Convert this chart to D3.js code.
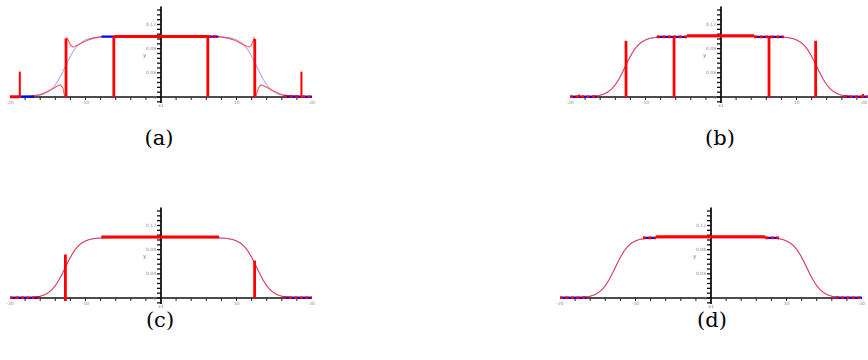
<!DOCTYPE html>
<html><head><meta charset="utf-8">
<script src="https://cdn.jsdelivr.net/npm/d3@7"></script>
<style>body{margin:0;background:#fff}svg{display:block}</style>
</head><body><svg id="c" width="868" height="360"></svg>
<script>
// ---------- data ----------
const xTickLabels = [-20, -10, 10, 20];
const yTickLabels = [0, 0.04, 0.08, 0.12];
const captions = ["(a)", "(b)", "(c)", "(d)"];

// exact profile (blue)
const exactX = [-20,-19,-18,-17,-16.5,-16,-15.5,-15,-14.5,-14,-13.5,-13,-12.5,-12,-11.5,-11,-10.5,-10,-9.5,-9,-8.5,-8,-7,-6,-4,0,
                4,6,7,8,8.5,9,9.5,10,10.5,11,11.5,12,12.5,13,13.5,14,14.5,15,15.5,16,16.5,17,18,19,20];
const exactY = [0.0000,0.0001,0.0004,0.0011,0.0018,0.0030,0.0050,0.0082,0.0131,0.0203,0.0301,0.0422,0.0552,0.0676,0.0780,0.0857,0.0910,0.0945,0.0967,0.0980,0.0988,0.0993,0.0998,0.0999,0.1000,0.1000,
                0.1000,0.0999,0.0998,0.0993,0.0988,0.0980,0.0967,0.0945,0.0910,0.0857,0.0780,0.0676,0.0552,0.0422,0.0301,0.0203,0.0131,0.0082,0.0050,0.0030,0.0018,0.0011,0.0004,0.0001,0.0000];

// numerical solution of panel (a): [x, y]
const redA = [[-20,0],[-18.9,0.0003],[-18,0.0008],[-17,0.0018],[-16,0.004],[-15.5,0.0065],[-15,0.0095],[-14.5,0.0125],
  [-14,0.016],[-13.6,0.019],[-13.3,0.020],[-13.0,0.015],[-12.8,0.004],[-12.65,0.0],[-12.55,0.095],[-12.45,0.098],
  [-12.25,0.093],[-12.0,0.086],[-11.7,0.083],[-11.4,0.0835],[-11.0,0.086],[-10.3,0.0905],[-9.5,0.095],[-9.0,0.097],
  [-8.0,0.0995],[-7.0,0.1],[0,0.1],[7.0,0.1],[8.0,0.0995],[9.0,0.097],[9.5,0.095],[10.3,0.0905],[11.0,0.086],
  [11.4,0.0835],[11.7,0.083],[12.0,0.086],[12.2,0.093],[12.32,0.098],[12.4,0.095],[12.5,0.0],[12.65,0.004],
  [12.9,0.015],[13.2,0.020],[13.5,0.019],[14,0.016],[14.5,0.0125],[15,0.0095],[15.5,0.0065],[16,0.004],
  [17,0.0018],[18,0.0008],[18.9,0.0003],[20,0]];

// vertical spikes: [x, bottom, top]
const spikesA = [[-18.7,0,0.042],[-12.58,0,0.097],[-6.25,0,0.1],[6.2,0,0.1],[12.42,0,0.096],[18.6,0,0.042]];
const spikesB = [[-18.8,0,0.004],[-12.58,0,0.093],[-6.22,0,0.1],[6.36,0,0.1],[12.54,0,0.093],[18.8,0,0.005]];
const spikesC = [[-12.66,-0.005,0.072],[12.4,0,0.062]];
const spikesD = [];

// dense point runs: [x0, x1, y]
const redBandsA = [[-20,-18.8,0.0004],[-6.25,6.2,0.1]];
const mixBandsA = [[6.2,7.6,0.1],[16.3,18.5,0.0008],[18.7,20,0.0005]];
const blueBandsA = [[-18.6,-16.8,0.0008],[-7.9,-6.25,0.1]];

const redBandsB = [[-4.5,4.4,0.1012]];
const mixBandsB = [[-8.5,-4.5,0.0995],[4.4,8.3,0.0995],[-20,-16.5,0.0005],[16.3,19.6,0.0005]];
const blueBandsB = [];

const redBandsC = [[-7.9,7.7,0.1008]];
const mixBandsC = [[-20,-16,0.0005],[16.2,20,0.0005]];
const blueBandsC = [];

const redBandsD = [[-7.3,7.2,0.1012]];
const mixBandsD = [[-9,-7.3,0.0995],[7.2,9,0.0995],[-20,-16.5,0.0005],[16.5,20,0.0005]];
const blueBandsD = [];

const exactPts = exactX.map((x, i) => [x, exactY[i]]);

const panels = [
  {x0: 10,  base: 97,  red: redA,     spikes: spikesA, redB: redBandsA, mixB: mixBandsA, blueB: blueBandsA, cap: captions[0], cx: 159, cy: 145},
  {x0: 570, base: 97,  red: exactPts, spikes: spikesB, redB: redBandsB, mixB: mixBandsB, blueB: blueBandsB, cap: captions[1], cx: 720, cy: 145},
  {x0: 10,  base: 298, red: exactPts, spikes: spikesC, redB: redBandsC, mixB: mixBandsC, blueB: blueBandsC, cap: captions[2], cx: 160, cy: 327},
  {x0: 560, base: 298, red: exactPts, spikes: spikesD, redB: redBandsD, mixB: mixBandsD, blueB: blueBandsD, cap: captions[3], cx: 712, cy: 327}
];

// ---------- drawing ----------
const svg = d3.select("#c");

panels.forEach(p => {
  const x = d3.scaleLinear().domain([-20, 20]).range([p.x0, p.x0 + 302]);
  const y = d3.scaleLinear().domain([0, 0.12]).range([p.base, p.base - 72.5]);
  const g = svg.append("g");

  // x axis
  g.append("line").attr("x1", x(-20)).attr("x2", x(20)).attr("y1", y(0)).attr("y2", y(0))
    .attr("stroke", "#111").attr("stroke-width", 1.6);
  const xt = d3.range(-18, 19, 2).filter(v => v !== 0);
  g.selectAll(".xt").data(xt).join("line")
    .attr("x1", d => x(d)).attr("x2", d => x(d)).attr("y1", y(0)).attr("y2", y(0) + 3)
    .attr("stroke", "#222").attr("stroke-width", 1);
  g.selectAll(".xl").data(xTickLabels).join("text")
    .attr("x", d => Math.min(x(d), 864)).attr("y", y(0) + 6.5)
    .attr("text-anchor", "middle").attr("font-family", "DejaVu Sans").attr("font-size", 4.5)
    .attr("fill", "#888").text(d => d);

  // y axis
  g.append("line").attr("x1", x(0)).attr("x2", x(0)).attr("y1", y(-0.01)).attr("y2", y(0.15))
    .attr("stroke", "#111").attr("stroke-width", 1.8);
  const yt = d3.range(-0.008, 0.151, 0.008);
  g.selectAll(".yt").data(yt).join("line")
    .attr("x1", x(0) - 4).attr("x2", x(0)).attr("y1", d => y(d)).attr("y2", d => y(d))
    .attr("stroke", "#111").attr("stroke-width", 1.3);
  g.selectAll(".yl").data(yTickLabels).join("text")
    .attr("x", x(0) - 5).attr("y", d => y(d) + 1.6)
    .attr("text-anchor", "end").attr("font-family", "DejaVu Sans").attr("font-size", 4.5)
    .attr("fill", "#888").text(d => d === 0 ? "0" : d.toFixed(2));
  g.append("text").attr("x", x(0) - 18).attr("y", y(0.067))
    .attr("font-family", "DejaVu Sans").attr("font-size", 5.5).attr("fill", "#777").text("y");
  g.append("text").attr("x", x(0)).attr("y", y(0) + 9.5).attr("text-anchor", "middle")
    .attr("font-family", "DejaVu Sans").attr("font-size", 4.5).attr("fill", "#777").text("x1");

  // exact curve (blue, thin)
  const line = d3.line().x(d => x(d[0])).y(d => y(d[1]));
  g.append("path").datum(exactPts).attr("d", line.curve(d3.curveMonotoneX))
    .attr("fill", "none").attr("stroke", "#5a5aff").attr("stroke-width", 0.9).attr("opacity", 0.7);

  // numerical curve (red, thin)
  g.append("path").datum(p.red).attr("d", d3.line().x(d => x(d[0])).y(d => y(d[1])).curve(d3.curveLinear))
    .attr("fill", "none").attr("stroke", "#ff1a1a").attr("stroke-width", 1.1).attr("opacity", 0.72);

  // dense runs
  g.selectAll(".bb").data(p.blueB).join("line")
    .attr("x1", d => x(d[0])).attr("x2", d => x(d[1])).attr("y1", d => y(d[2])).attr("y2", d => y(d[2]))
    .attr("stroke", "#0000ff").attr("stroke-width", 2.2);
  g.selectAll(".mb").data(p.mixB).join("line")
    .attr("x1", d => x(d[0])).attr("x2", d => x(d[1])).attr("y1", d => y(d[2])).attr("y2", d => y(d[2]))
    .attr("stroke", "#0000ff").attr("stroke-width", 2.2);
  g.selectAll(".mr").data(p.mixB).join("line")
    .attr("x1", d => x(d[0])).attr("x2", d => x(d[1])).attr("y1", d => y(d[2])).attr("y2", d => y(d[2]))
    .attr("stroke", "#ff0000").attr("stroke-width", 2.6).attr("stroke-dasharray", "3,2.5");
  g.selectAll(".rb").data(p.redB).join("line")
    .attr("x1", d => x(d[0])).attr("x2", d => x(d[1])).attr("y1", d => y(d[2])).attr("y2", d => y(d[2]))
    .attr("stroke", "#ff0000").attr("stroke-width", 3);

  // spikes
  g.selectAll(".sp").data(p.spikes).join("line")
    .attr("x1", d => x(d[0])).attr("x2", d => x(d[0])).attr("y1", d => y(d[1])).attr("y2", d => y(d[2]))
    .attr("stroke", "#ff0000").attr("stroke-width", d => (d[2] < 0.05 ? 2 : 2.8));

  // caption
  svg.append("text").attr("x", p.cx).attr("y", p.cy).attr("text-anchor", "middle")
    .attr("font-family", "'DejaVu Serif', serif").attr("font-size", 21).attr("fill", "#000").text(p.cap);
});
</script></body></html>
